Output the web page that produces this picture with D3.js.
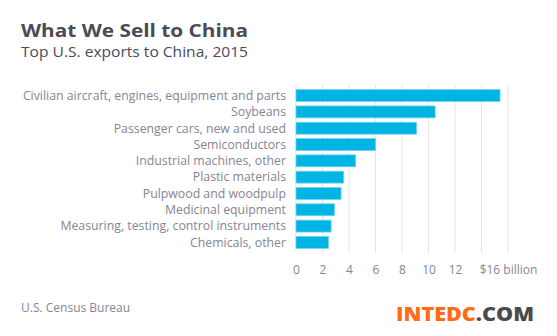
<!DOCTYPE html>
<html>
<head>
<meta charset="utf-8">
<script src="https://cdn.jsdelivr.net/npm/d3@7"></script>
<style>
  html, body { margin: 0; padding: 0; background: #fff; }
  svg { display: block; font-family: "Open Sans", Roboto, sans-serif; }
</style>
</head>
<body>
<div id="chart"></div>
<script>
// Top U.S. exports to China, 2015, in $ billions
var categories = [
  'Civilian aircraft, engines, equipment and parts',
  'Soybeans',
  'Passenger cars, new and used',
  'Semiconductors',
  'Industrial machines, other',
  'Plastic materials',
  'Pulpwood and woodpulp',
  'Medicinal equipment',
  'Measuring, testing, control instruments',
  'Chemicals, other'
];
var values = [15.4, 10.5, 9.1, 6.0, 4.5, 3.6, 3.4, 2.9, 2.65, 2.45];
var tickValues = [0, 2, 4, 6, 8, 10, 12, 14, 16];
var tickLabels = ['0', '2', '4', '6', '8', '10', '12', '', '$16 billion'];

var _width = 557, _height = 336;
var _left = 296, _right = 508, _top = 88, _bottom = 250;

var svg = d3.select('#chart').append('svg')
    .attr('width', _width)
    .attr('height', _height);

var x = d3.scaleLinear().domain([0, 16]).range([_left, _right]);
var y = d3.scaleBand().domain(categories).range([_top, _bottom])
    .paddingInner(0.27).paddingOuter(0.1);

// gridlines
svg.append('g')
  .selectAll('line')
  .data(tickValues)
  .enter().append('line')
    .attr('x1', function(d) { return x(d); })
    .attr('x2', function(d) { return x(d); })
    .attr('y1', 84)
    .attr('y2', 253)
    .attr('stroke', '#e6e6e9')
    .attr('stroke-width', 1);

// bars
svg.append('g')
  .selectAll('rect')
  .data(values)
  .enter().append('rect')
    .attr('x', x(0))
    .attr('y', function(d, i) { return y(categories[i]); })
    .attr('width', function(d) { return x(d) - x(0); })
    .attr('height', y.bandwidth())
    .attr('fill', '#00b5e4')
    .attr('stroke', '#6fd3f0')
    .attr('stroke-width', 0.8);

// category labels
svg.append('g')
  .selectAll('text')
  .data(categories)
  .enter().append('text')
    .attr('x', 286)
    .attr('y', function(d) { return y(d) + y.bandwidth() / 2; })
    .attr('dy', '0.35em')
    .attr('text-anchor', 'end')
    .attr('font-size', 12.3)
    .attr('fill', '#858596')
    .text(function(d) { return d; });

// x axis labels
var axis = d3.axisBottom(x)
    .tickValues(tickValues)
    .tickFormat(function(d, i) { return tickLabels[i]; })
    .tickSize(0)
    .tickPadding(0);

var gx = svg.append('g')
    .attr('transform', 'translate(0,' + 265 + ')')
    .call(axis);
gx.select('.domain').remove();
gx.selectAll('text')
    .attr('font-family', '"Open Sans", Roboto, sans-serif')
    .attr('font-size', 12)
    .attr('fill', '#858596');

// titles
svg.append('text')
    .attr('x', 21).attr('y', 37)
    .attr('font-size', 18.5)
    .attr('font-weight', 'bold')
    .attr('fill', '#4a4a59')
    .attr('textLength', 227)
    .attr('lengthAdjust', 'spacingAndGlyphs')
    .text('What We Sell to China');

svg.append('text')
    .attr('x', 21).attr('y', 57)
    .attr('font-size', 14.5)
    .attr('fill', '#4a4a59')
    .attr('textLength', 227)
    .attr('lengthAdjust', 'spacingAndGlyphs')
    .text('Top U.S. exports to China, 2015');

svg.append('text')
    .attr('x', 21).attr('y', 312)
    .attr('font-size', 12)
    .attr('fill', '#858596')
    .text('U.S. Census Bureau');

// site mark
var mark = svg.append('text')
    .attr('x', 396).attr('y', 321)
    .attr('font-size', 19.5)
    .attr('font-weight', 900)
    .attr('textLength', 138)
    .attr('lengthAdjust', 'spacingAndGlyphs');
mark.append('tspan').attr('fill', '#ff6a13').text('INTEDC');
mark.append('tspan').attr('fill', '#4a4a4a').text('.COM');
</script>
</body>
</html>
